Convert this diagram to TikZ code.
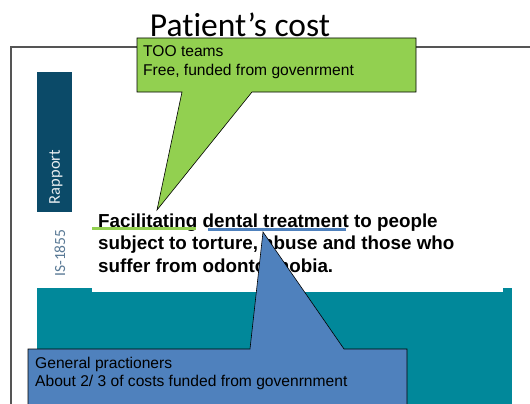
\documentclass[tikz,border=0pt]{standalone}
\usepackage{fontspec}
\setmainfont{Liberation Sans}
\newfontfamily\titlefont[Ligatures=NoCommon]{Carlito}
\newfontfamily\barfont{Carlito}
\definecolor{framegray}{HTML}{555555}
\definecolor{bardark}{HTML}{0B4A68}
\definecolor{tealc}{HTML}{01889A}
\definecolor{greenc}{HTML}{92D050}
\definecolor{bluec}{HTML}{4F81BD}
\definecolor{isgray}{HTML}{5A7A96}
\tikzset{
  calloutshape/.style={draw=black, line width=0.6pt, line join=miter},
  bodytext/.style={anchor=base west, inner sep=0pt, font=\bfseries\fontsize{18.8}{22}\selectfont},
  calltext/.style={anchor=base west, inner sep=0pt, font=\fontsize{15.6}{18}\selectfont},
  underline/.style={line width=2.2pt}
}
\begin{document}
\begin{tikzpicture}[x=1pt,y=-1pt]
\useasboundingbox (0,0) rectangle (530,404);
\fill[white] (0,0) rectangle (530,404);
% title
\node[anchor=base, inner sep=0pt, font=\titlefont\fontsize{33.5}{36}\selectfont] (title) at (240,37) {Patient’s cost};
% frame
\draw[framegray, line width=2pt] (530,47) -- (11,47) -- (11,404);
% rapport bar
\fill[bardark] (37,72) rectangle (72,212);
\node[rotate=90, text=white!90!bardark, inner sep=0pt, font=\barfont\fontsize{16.5}{17}\selectfont] (rapport) at (56,177) {Rapport};
\node[rotate=90, text=isgray, inner sep=0pt, font=\barfont\fontsize{15.5}{16}\selectfont] (isnum) at (60,253) {IS-1855};
% teal block
\fill[tealc] (37,288) rectangle (512,404);
\fill[white] (92,280) rectangle (503,292);
% body text
\node[bodytext] (l1) at (98,227) {Facilitating dental treatment to people};
\node[bodytext] (l2) at (98,249.5) {subject to torture, abuse and those who};
\node[bodytext] (l3) at (98,272) {suffer from odontophobia.};
% underlines
\coordinate (g1) at (92,228.5);
\coordinate (g2) at (196,228.5);
\coordinate (b1) at (208,229.5);
\coordinate (b2) at (346,229.5);
\draw[greenc, underline] (g1) -- (g2);
\draw[bluec, underline] (b1) -- (b2);
% green callout
\coordinate (gtip) at (157,210);
\draw[calloutshape, fill=greenc] (137,38) -- (416,38) -- (416,92) -- (252,92) -- (gtip) -- (182,92) -- (137,92) -- cycle;
\node[calltext] (gt1) at (143,57) {TOO teams};
\node[calltext] (gt2) at (143,75) {Free, funded from govenrment};
% blue callout
\coordinate (btip) at (263,232);
\draw[calloutshape, fill=bluec] (28,410) -- (28,349) -- (250,349) -- (btip) -- (344,349) -- (407,349) -- (407,410);
\node[calltext] (bt1) at (35,368) {General practioners};
\node[calltext] (bt2) at (35,386) {About 2/ 3 of costs funded from govenrnment};
\end{tikzpicture}
\end{document}
